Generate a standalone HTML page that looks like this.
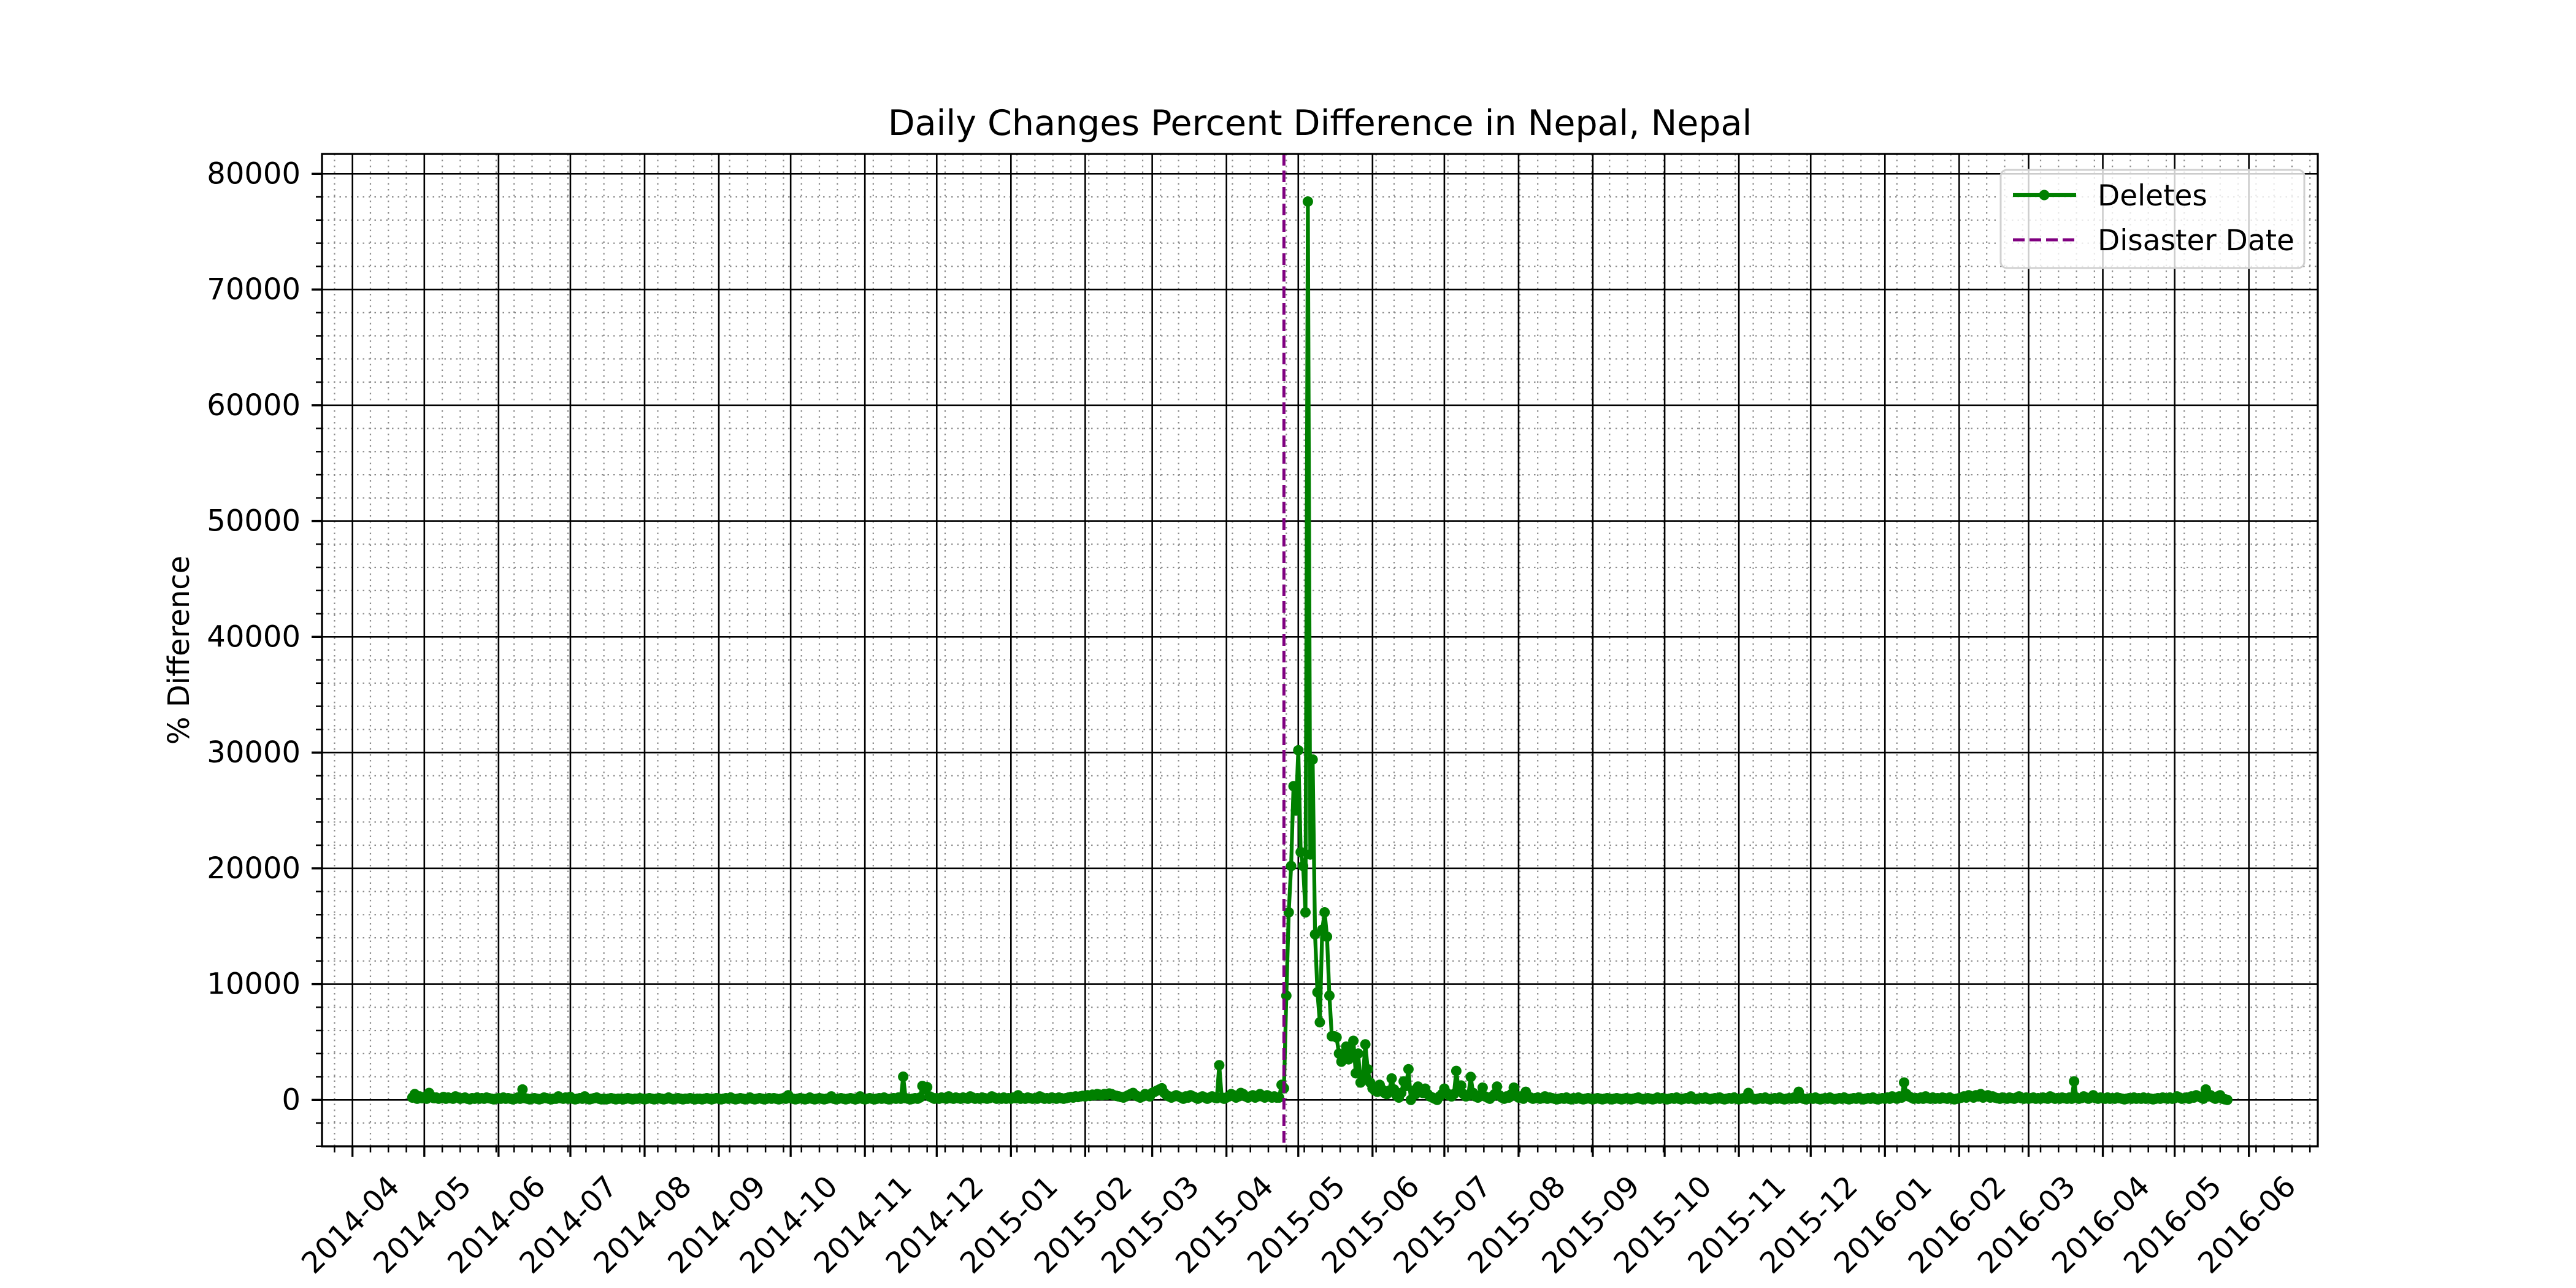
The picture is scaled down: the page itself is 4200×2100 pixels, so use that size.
<!DOCTYPE html>
<html><head><meta charset="utf-8"><style>
html,body{margin:0;padding:0;background:#fff;}
svg{display:block;font-family:"DejaVu Sans","Liberation Sans",sans-serif;}
</style></head><body>
<svg id="chart" width="4200" height="2100" viewBox="0 0 4200 2100" xmlns="http://www.w3.org/2000/svg">
<rect x="0" y="0" width="4200" height="2100" fill="#fff"/>
<g id="grid-minor"></g>
<g id="grid-major"></g>
<g id="series"></g>
<g id="axes"></g>
<text x="2152" y="220" font-size="57" text-anchor="middle">Daily Changes Percent Difference in Nepal, Nepal</text>
<text transform="translate(308,1060) rotate(-90)" font-size="48" text-anchor="middle">% Difference</text>
<g>
<rect x="3262" y="277" width="495" height="160" rx="10" fill="#fff" fill-opacity="0.8" stroke="#d0d0d0" stroke-width="3"/>
<g>
<line x1="3282" y1="318" x2="3385" y2="318" stroke="#008000" stroke-width="6.25"/>
<circle cx="3333" cy="318" r="8.5" fill="#008000"/>
<text x="3420" y="335" font-size="47">Deletes</text>
</g>
<g>
<line x1="3282" y1="391" x2="3385" y2="391" stroke="#800080" stroke-width="5" stroke-dasharray="19,8"/>
<text x="3420" y="408" font-size="47">Disaster Date</text>
</g>
</g>
</svg>
<script>
// ---- data ----
const startDay = 25; // days since 2014-04-01 of first value
const disasterDay = 389; // 2015-04-25
const yTicks = [0,10000,20000,30000,40000,50000,60000,70000,80000];
const xTickLabels = ["2014-04","2014-05","2014-06","2014-07","2014-08","2014-09","2014-10","2014-11","2014-12","2015-01","2015-02","2015-03","2015-04","2015-05","2015-06","2015-07","2015-08","2015-09","2015-10","2015-11","2015-12","2016-01","2016-02","2016-03","2016-04","2016-05","2016-06"];
const deletes = [
200,500,100,300,150,250,100,600,300,150,
200,100,150,250,100,200,150,100,300,200,
100,150,200,100,50,150,100,200,100,150,
100,200,150,100,50,100,150,100,200,100,
150,100,50,100,200,100,900,150,100,50,
100,150,100,50,100,200,150,100,50,100,
100,300,150,100,200,100,250,100,50,100,
150,100,300,100,50,100,150,200,100,50,
100,50,100,150,100,50,100,100,50,100,
150,100,50,100,100,150,100,50,100,150,
100,50,100,150,100,50,100,200,100,50,
100,150,100,50,100,100,150,100,50,100,
100,50,100,150,100,50,100,150,100,50,
100,150,100,200,100,50,100,150,100,50,
100,200,100,50,100,150,100,50,100,150,
100,150,100,50,100,150,100,400,150,100,
50,100,150,100,50,100,200,100,50,100,
150,100,50,100,150,300,100,50,100,150,
100,50,100,150,100,50,100,300,100,50,
100,150,100,50,100,150,100,200,100,50,
100,150,100,200,100,2000,150,100,50,100,
150,100,200,1200,900,1100,300,200,100,150,
100,200,150,100,300,150,100,200,150,100,
200,150,100,300,200,100,150,100,200,150,
100,150,300,200,100,150,100,200,100,150,
100,200,150,400,100,150,100,200,150,100,
150,100,300,200,100,150,100,200,150,100,
200,150,100,150,200,250,200,300,250,300,
350,300,400,350,450,400,500,450,400,500,
450,550,500,400,350,300,250,200,300,400,
500,600,400,300,200,300,500,400,300,600,
700,800,900,1000,600,400,300,200,300,400,
300,200,100,300,200,400,300,200,100,200,
300,200,100,200,300,200,150,3000,200,100,
200,300,500,400,200,300,600,500,300,200,
300,400,200,300,500,300,200,400,300,200,
300,200,200,1300,1000,9000,16200,20200,27100,25000,
30200,21400,20200,16200,77600,21200,29400,14300,9300,6700,
14700,16200,14100,9000,5500,5500,5400,4000,3300,3800,
4600,3500,4200,5100,2300,4000,1500,2000,4800,2650,
1500,1000,800,700,1300,900,600,500,800,1850,
900,400,200,600,1600,1200,2650,0,800,500,
1150,800,600,970,500,300,200,100,0,300,
500,970,600,400,300,500,2500,800,1240,500,
300,400,1980,600,300,200,400,1060,300,200,
100,300,500,1150,400,200,100,300,200,500,
1060,400,200,300,100,700,300,200,100,150,
200,100,150,300,100,200,150,100,50,100,
150,100,200,100,50,150,100,200,100,50,
100,150,100,50,100,150,100,50,100,150,
100,50,100,150,100,50,100,150,100,50,
100,150,200,100,50,100,150,100,50,100,
200,100,150,100,50,100,150,100,200,100,
50,100,150,100,300,100,50,100,150,100,
200,100,50,100,150,100,200,100,50,100,
150,100,200,100,50,100,150,100,600,200,
100,50,100,150,100,200,100,50,100,150,
100,200,100,50,100,150,100,200,100,700,
200,100,50,100,150,100,200,100,50,100,
150,100,200,100,50,100,150,100,200,100,
50,100,150,100,200,100,50,100,150,100,
200,100,50,100,150,100,200,100,300,200,
100,300,200,1500,500,300,200,100,150,100,
200,100,300,150,100,200,100,150,100,200,
150,100,200,100,50,100,150,200,300,200,
400,300,200,400,300,500,200,300,400,200,
300,200,150,100,200,150,100,200,150,100,
200,300,150,100,200,100,150,200,100,150,
100,200,150,100,300,200,100,150,100,200,
150,100,200,100,1600,200,100,150,300,200,
100,200,400,150,100,200,150,100,200,100,
150,100,200,150,100,50,100,150,100,200,
100,150,100,200,100,150,100,50,100,150,
100,200,150,100,200,100,150,300,200,100,
150,200,100,300,200,400,300,200,100,900,
300,400,200,100,300,400,100,50,0
];

// ---- layout / scales ----
const L=525, R=3779, T=251, B=1869;
const X0=574.7, PXDAY=3.904;
const Y0=1793.3, PXVAL=0.018875;
const xDay = d => X0 + d*PXDAY;
const yVal = v => Y0 - v*PXVAL;
const NS="http://www.w3.org/2000/svg";
function mk(tag, attrs, parent){const e=document.createElementNS(NS,tag);for(const k in attrs)e.setAttribute(k,attrs[k]);parent.appendChild(e);return e;}
const base = Date.UTC(2014,3,1);
function labelDay(lbl){const [y,m]=lbl.split("-").map(Number);return (Date.UTC(y,m-1,1)-base)/86400000;}

const gMin=document.getElementById('grid-minor'), gMaj=document.getElementById('grid-major'), gAx=document.getElementById('axes'), gS=document.getElementById('series');

for(let k=-1;k<=109;k++){
  const x=xDay(k*7.5); if(x<L||x>R) continue;
  const ln=mk('line',{x1:x,y1:T,x2:x,y2:B,stroke:'#8a8a8a','stroke-width':2.2,'stroke-dasharray':'2.5,7'},gMin);
  
  
  const t=mk('line',{x1:x,y1:B,x2:x,y2:B+10,stroke:'#000','stroke-width':2.5},gAx);
  
  
}
for(let v=-4000;v<=80000;v+=2000){
  const y=yVal(v); if(y<T||y>B) continue;
  const ln=mk('line',{x1:L,y1:y,x2:R,y2:y,stroke:'#8a8a8a','stroke-width':2.2,'stroke-dasharray':'2.5,7'},gMin);
  
  
  const t=mk('line',{x1:L-10,y1:y,x2:L,y2:y,stroke:'#000','stroke-width':2.5},gAx);
  
  
}
xTickLabels.forEach(lbl=>{
  const x=xDay(labelDay(lbl));
  const ln=mk('line',{x1:x,y1:T,x2:x,y2:B,stroke:'#000','stroke-width':2.6},gMaj);
  
  
  const t=mk('line',{x1:x,y1:B,x2:x,y2:B+17,stroke:'#000','stroke-width':3.3},gAx);
  
  
  const tx=mk('text',{x:0,y:0,'font-size':48,'text-anchor':'middle','dominant-baseline':'central',transform:`translate(${x-3},1997) rotate(-45)`},gAx);
  tx.textContent=lbl;
  
  
});
yTicks.forEach(v=>{
  const y=yVal(v);
  const ln=mk('line',{x1:L,y1:y,x2:R,y2:y,stroke:'#000','stroke-width':2.6},gMaj);
  
  
  const t=mk('line',{x1:L-17,y1:y,x2:L,y2:y,stroke:'#000','stroke-width':3.3},gAx);
  
  
  const tx=mk('text',{x:490,y:y,'font-size':48,'text-anchor':'end','dominant-baseline':'central'},gAx);
  tx.textContent=String(v);
  
  
});
const sp=mk('rect',{x:L,y:T,width:R-L,height:B-T,fill:'none',stroke:'#000','stroke-width':3.3},gAx);



const pts=deletes.map((v,i)=>[xDay(startDay+i),yVal(v)]);
const pl=mk('polyline',{points:pts.map(p=>p[0].toFixed(1)+','+p[1].toFixed(1)).join(' '),fill:'none',stroke:'#008000','stroke-width':6.25,'stroke-linejoin':'round'},gS);


pts.forEach(p=>{
  const c=mk('circle',{cx:p[0].toFixed(1),cy:p[1].toFixed(1),r:8.5,fill:'#008000'},gS);
  
  
});
const dx=xDay(disasterDay);
const dl=mk('line',{x1:dx,y1:T,x2:dx,y2:B,stroke:'#800080','stroke-width':5,'stroke-dasharray':'19,8'},gS);


</script>
</body></html>
